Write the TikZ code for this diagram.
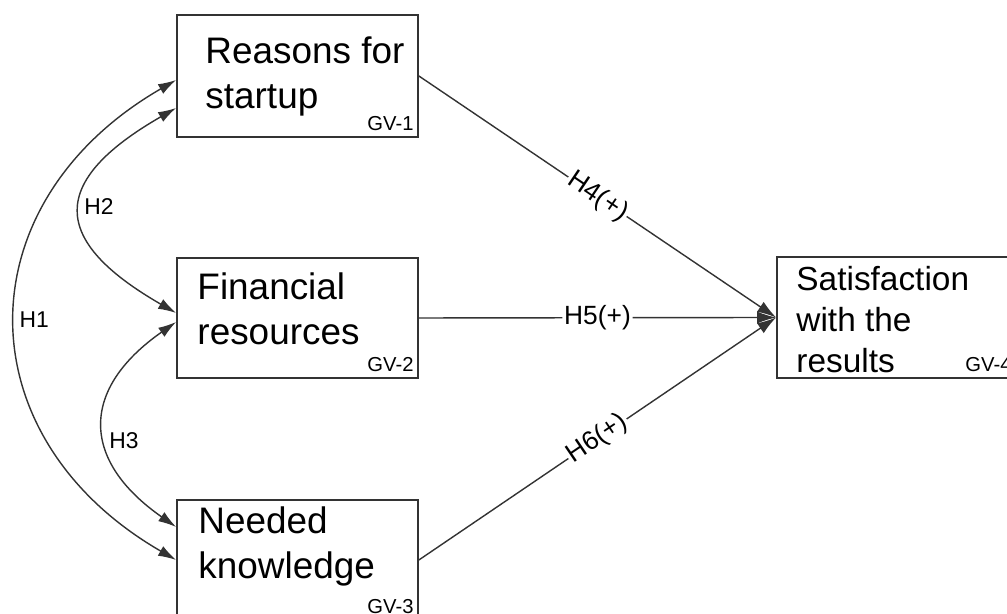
\documentclass[tikz,border=0pt]{standalone}
\usepackage{fontspec}
\setmainfont{Liberation Sans}
\usepackage{xcolor}
\usetikzlibrary{arrows.meta}

\tikzset{
  var/.style={draw=black!80, line width=1pt, minimum width=4.82cm, minimum height=2.4cm, inner sep=0pt},
  vartext/.style={anchor=north west, align=left, inner sep=0pt, font=\fontsize{21}{25.6}\selectfont},
  varcode/.style={anchor=base east, inner sep=0pt, font=\fontsize{11.5}{13}\selectfont},
  link/.style={draw=black!80, line width=0.8pt, -{Latex[length=0.38cm,width=0.24cm]}},
  cov/.style={draw=black!80, line width=0.8pt, {Latex[length=0.36cm,width=0.22cm]}-{Latex[length=0.36cm,width=0.22cm]}},
  hyp/.style={sloped, fill=white, inner sep=1pt, font=\fontsize{15}{18}\selectfont},
  covlabel/.style={anchor=west, inner sep=1.5pt, font=\fontsize{13}{15}\selectfont}
}

\begin{document}
\begin{tikzpicture}
		\clip (0,0) rectangle (20.14,12.28);
		% variables
		\node[var, minimum height=2.44cm] (gv1) at (5.95,10.76) {};
		\node[var] (gv2) at (5.95,5.92) {};
		\node[var] (gv3) at (5.95,1.08) {};
		\node[var, minimum width=4.78cm, minimum height=2.42cm] (gv4) at (17.93,5.93) {};
		\node[vartext] (t1) at ([shift={(0.58,-0.44)}]gv1.north west) {Reasons for\\startup};
		\node[vartext] (t2) at ([shift={(0.42,-0.30)}]gv2.north west) {Financial\\resources};
		\node[vartext] (t3) at ([shift={(0.44,-0.14)}]gv3.north west) {Needed\\knowledge};
		\node[vartext, font=\fontsize{19}{23.3}\selectfont] (t4) at ([shift={(0.40,-0.20)}]gv4.north west) {Satisfaction\\with the\\results};
		\foreach \v in {1, 2, 3, 4} {
		  \node[varcode] (c\v) at ([shift={(-0.1,0.14)}]gv\v.south east) {GV-\v};
		}
		% hypotheses
		\draw[link] (gv1.east) -- node[hyp] {H4(+)} (gv4.west);
		\draw[link] (gv2.east) -- node[hyp] {H5(+)} (gv4.west);
		\draw[link] (gv3.east) -- node[hyp] {H6(+)} (gv4.west);
		\draw[cov] ([yshift=-0.08cm]gv1.west) .. controls +(-4.26,-2.46) and +(-4.26,2.46) .. (gv3.west)
		  node[covlabel, pos=0.5] {H1};
		\draw[cov] ([yshift=-0.64cm]gv1.west) .. controls +(-2.54,-1.46) and +(-2.54,1.46) .. ([yshift=0.1cm]gv2.west)
		  node[covlabel, pos=0.48] {H2};
		\draw[cov] ([yshift=-0.08cm]gv2.west) .. controls +(-1.92,-1.34) and +(-1.92,1.34) .. ([yshift=0.66cm]gv3.west)
		  node[covlabel, pos=0.58] {H3};
	\end{tikzpicture}
\end{document}
